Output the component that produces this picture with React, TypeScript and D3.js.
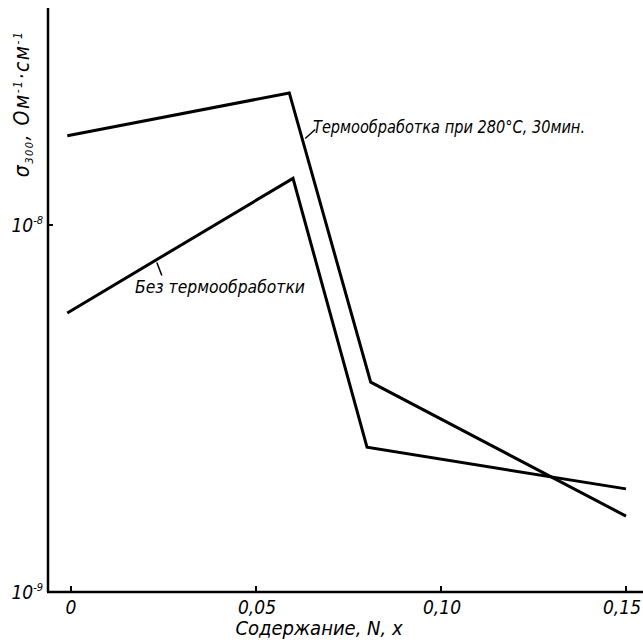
import * as d3 from "d3";

// Содержание N, x  (значения по оси абсцисс)
const heatX = [-0.001, 0.059, 0.081, 0.15];
const heatSigma = [1.75e-8, 2.29e-8, 3.73e-9, 1.61e-9];

const rawX = [-0.001, 0.06, 0.08, 0.15];
const rawSigma = [5.76e-9, 1.34e-8, 2.48e-9, 1.91e-9];

const xTicks = [0, 0.05, 0.1, 0.15];
const xTickLabels = ["0", "0,05", "0,10", "0,15"];
const yTicks = [1e-8, 1e-9];
const yTickExp = ["-8", "-9"];

const W = 643;
const H = 642;
const axisX = 48;
const axisY = 592;
const axisTop = 8;

const font = "'Liberation Sans Narrow', 'DejaVu Sans Condensed', 'DejaVu Sans', sans-serif";

export default function App() {
  const x = d3.scaleLinear().domain([0, 0.15]).range([71, 626]);
  const y = d3.scaleLog().domain([1e-9, 1e-8]).range([axisY, 225]);

  const line = d3
    .line<[number, number]>()
    .x((d) => x(d[0]))
    .y((d) => y(d[1]));

  const heatPts = heatX.map((v, i) => [v, heatSigma[i]] as [number, number]);
  const rawPts = rawX.map((v, i) => [v, rawSigma[i]] as [number, number]);

  // точки для выносок подписей
  const heatLeader = [x(0.0633), y(1.0e-8 * 1.72)];
  const rawLeader = [x(0.0232), y(7.9e-9)];

  return (
    <svg
      width={W}
      height={H}
      style={{ position: "absolute", left: 0, top: 0, background: "#fff" }}
      fontFamily={font}
      fontStyle="italic"
    >
      {/* оси */}
      <line x1={axisX} y1={axisTop} x2={axisX} y2={axisY} stroke="#000" strokeWidth={2.5} />
      <line x1={axisX - 1} y1={axisY} x2={W} y2={axisY} stroke="#000" strokeWidth={2.5} />

      {xTicks.map((t, i) => (
        <g key={t}>
          <line x1={x(t)} y1={axisY} x2={x(t)} y2={axisY - 6} stroke="#000" strokeWidth={2} />
          <text
            x={x(t) + (i === 0 ? 0 : i === 3 ? -4 : 1)}
            y={axisY + 22}
            textAnchor="middle"
            fontSize={19}
          >
            {xTickLabels[i]}
          </text>
        </g>
      ))}

      {yTicks.map((t, i) => (
        <g key={t}>
          {i === 0 && (
            <line x1={axisX} y1={y(t)} x2={axisX + 5} y2={y(t)} stroke="#000" strokeWidth={2} />
          )}
          <text x={axisX - 5} y={y(t) + 7} textAnchor="end" fontSize={19}>
            10
            <tspan dy={-8} fontSize={11}>
              {yTickExp[i]}
            </tspan>
          </text>
        </g>
      ))}

      {/* подписи осей */}
      <text
        transform={`translate(29,104) rotate(-90)`}
        textAnchor="middle"
        fontSize={21}
        letterSpacing={1.5}
      >
        σ
        <tspan dy={4} fontSize={11}>
          300
        </tspan>
        <tspan dy={-4}>, Ом</tspan>
        <tspan dy={-7} fontSize={12}>
          -1
        </tspan>
        <tspan dy={7}>·см</tspan>
        <tspan dy={-7} fontSize={12}>
          -1
        </tspan>
      </text>

      <text x={319} y={635} textAnchor="middle" fontSize={20}>
        Содержание,  N, x
      </text>

      {/* кривые */}
      <path d={line(heatPts) ?? ""} fill="none" stroke="#000" strokeWidth={3} strokeLinejoin="miter" />
      <path d={line(rawPts) ?? ""} fill="none" stroke="#000" strokeWidth={3} strokeLinejoin="miter" />

      {/* выноски */}
      <line x1={heatLeader[0]} y1={heatLeader[1]} x2={heatLeader[0] + 10} y2={heatLeader[1] - 9} stroke="#000" strokeWidth={1.5} />
      <text x={313} y={133} fontSize={17} textLength={272} lengthAdjust="spacingAndGlyphs">
        Термообработка при 280°С, 30мин.
      </text>

      <line x1={rawLeader[0]} y1={rawLeader[1]} x2={rawLeader[0] + 5} y2={rawLeader[1] + 13} stroke="#000" strokeWidth={1.5} />
      <text x={135} y={293} fontSize={17} textLength={170} lengthAdjust="spacingAndGlyphs">
        Без термообработки
      </text>
    </svg>
  );
}
